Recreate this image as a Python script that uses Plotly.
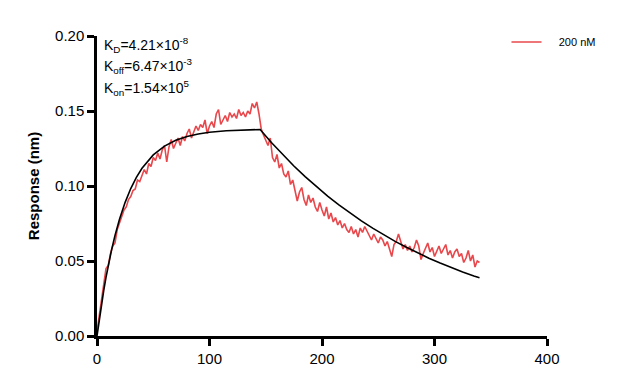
import plotly.graph_objects as go

# Raw sensorgram (200 nM), sampled every 2 s
time_s = list(range(0, 342, 2))
response_200nM = [
    0.003, 0.014, 0.026, 0.036, 0.045, 0.047, 0.055, 0.060, 0.062, 0.071,
    0.075, 0.079, 0.084, 0.086, 0.091, 0.093, 0.097, 0.098, 0.104, 0.103,
    0.107, 0.111, 0.108, 0.115, 0.113, 0.119, 0.117, 0.122, 0.118, 0.124,
    0.127, 0.116, 0.126, 0.131, 0.125, 0.129, 0.132, 0.127, 0.133, 0.130,
    0.135, 0.138, 0.132, 0.136, 0.140, 0.137, 0.141, 0.139, 0.144, 0.135,
    0.140, 0.143, 0.139, 0.148, 0.151, 0.141, 0.144, 0.147, 0.143, 0.149,
    0.146, 0.148, 0.145, 0.151, 0.147, 0.149, 0.146, 0.150, 0.148, 0.155,
    0.152, 0.156, 0.148,
    0.138, 0.134, 0.131, 0.127, 0.132, 0.119, 0.116, 0.121, 0.112, 0.115,
    0.108, 0.106, 0.110, 0.101, 0.104, 0.098, 0.090, 0.096, 0.099, 0.091,
    0.087, 0.094, 0.089, 0.092, 0.086, 0.083, 0.089, 0.084, 0.080, 0.086,
    0.078, 0.082, 0.076, 0.079, 0.074, 0.077, 0.072, 0.075, 0.071, 0.069,
    0.073, 0.068, 0.071, 0.066, 0.072, 0.069, 0.073, 0.070, 0.067, 0.064,
    0.068, 0.065, 0.062, 0.066, 0.064, 0.060, 0.063, 0.058, 0.053, 0.061,
    0.063, 0.068, 0.062, 0.058, 0.061, 0.057, 0.060, 0.056, 0.059, 0.064,
    0.060, 0.051, 0.055, 0.058, 0.062, 0.056, 0.059, 0.053, 0.057, 0.060,
    0.055, 0.058, 0.061, 0.054, 0.057, 0.052, 0.056, 0.058, 0.053, 0.055,
    0.049, 0.052, 0.057, 0.050, 0.054, 0.046, 0.050, 0.049,
]

# Fitted curve
fit_time = [0, 2, 4, 6, 8, 10, 13, 16, 20, 25, 30, 35, 40, 50, 60, 70, 80, 90, 100,
            115, 130, 145,
            155, 165, 175, 185, 195, 205, 215, 225, 235, 245, 255, 265, 275, 285,
            295, 305, 315, 325, 335, 340]
fit_response = [0.0, 0.0109, 0.0211, 0.0304, 0.0391, 0.0469, 0.0576, 0.0670, 0.0778,
                0.0891, 0.0983, 0.1058, 0.1118, 0.1207, 0.1266, 0.1305, 0.1330, 0.1347,
                0.1358, 0.1368, 0.1374, 0.1377,
                0.1290, 0.1209, 0.1133, 0.1062, 0.0995, 0.0932, 0.0874, 0.0819, 0.0767,
                0.0719, 0.0673, 0.0631, 0.0592, 0.0554, 0.0519, 0.0487, 0.0456, 0.0427,
                0.0400, 0.0388]

x_ticks = [0, 100, 200, 300, 400]
y_ticks = [0.00, 0.05, 0.10, 0.15, 0.20]
kinetics_labels = [
    "K<sub>D</sub>=4.21×10<sup>-8</sup>",
    "K<sub>off</sub>=6.47×10<sup>-3</sup>",
    "K<sub>on</sub>=1.54×10<sup>5</sup>",
]

FONT = "Liberation Sans, Arial, sans-serif"

fig = go.Figure()
fig.add_trace(go.Scatter(x=time_s, y=response_200nM, mode="lines",
                         name="\u00a0\u00a0\u00a0\u00a0200 nM",
                         line=dict(color="#e8474b", width=1.6)))
fig.add_trace(go.Scatter(x=fit_time, y=fit_response, mode="lines", name="fit",
                         showlegend=False, line=dict(color="black", width=1.6)))

for i, txt in enumerate(kinetics_labels):
    fig.add_annotation(x=0.012, xref="paper", y=0.97 - i * 0.071, yref="paper",
                       text=txt, showarrow=False, xanchor="left", yanchor="middle",
                       font=dict(family=FONT, size=14, color="black"))

fig.update_layout(
    width=618, height=381,
    margin=dict(l=89, r=79, t=28, b=53, autoexpand=False),
    paper_bgcolor="white", plot_bgcolor="white",
    font=dict(family=FONT, color="black"),
    legend=dict(x=0.91, y=0.98, xanchor="left", yanchor="middle",
                bgcolor="rgba(0,0,0,0)", font=dict(size=11, family=FONT)),
    showlegend=True,
)
fig.update_xaxes(range=[0, 400], tickvals=x_ticks, showline=True, linecolor="black",
                 linewidth=2.5, ticks="outside", ticklen=7, tickwidth=2.5,
                 tickcolor="black", showgrid=False, zeroline=False, automargin=False,
                 tickfont=dict(size=15, family=FONT))
fig.update_yaxes(range=[0, 0.2], tickvals=y_ticks, tickformat=".2f", showline=True,
                 linecolor="black", linewidth=2.5, ticks="outside", ticklen=7,
                 tickwidth=2.5, tickcolor="black", showgrid=False, zeroline=False,
                 automargin=False, tickfont=dict(size=15, family=FONT),
                 title=dict(text="<b>Response (nm)</b>", font=dict(size=15, family=FONT),
                            standoff=12))

fig.write_html("out.html")
